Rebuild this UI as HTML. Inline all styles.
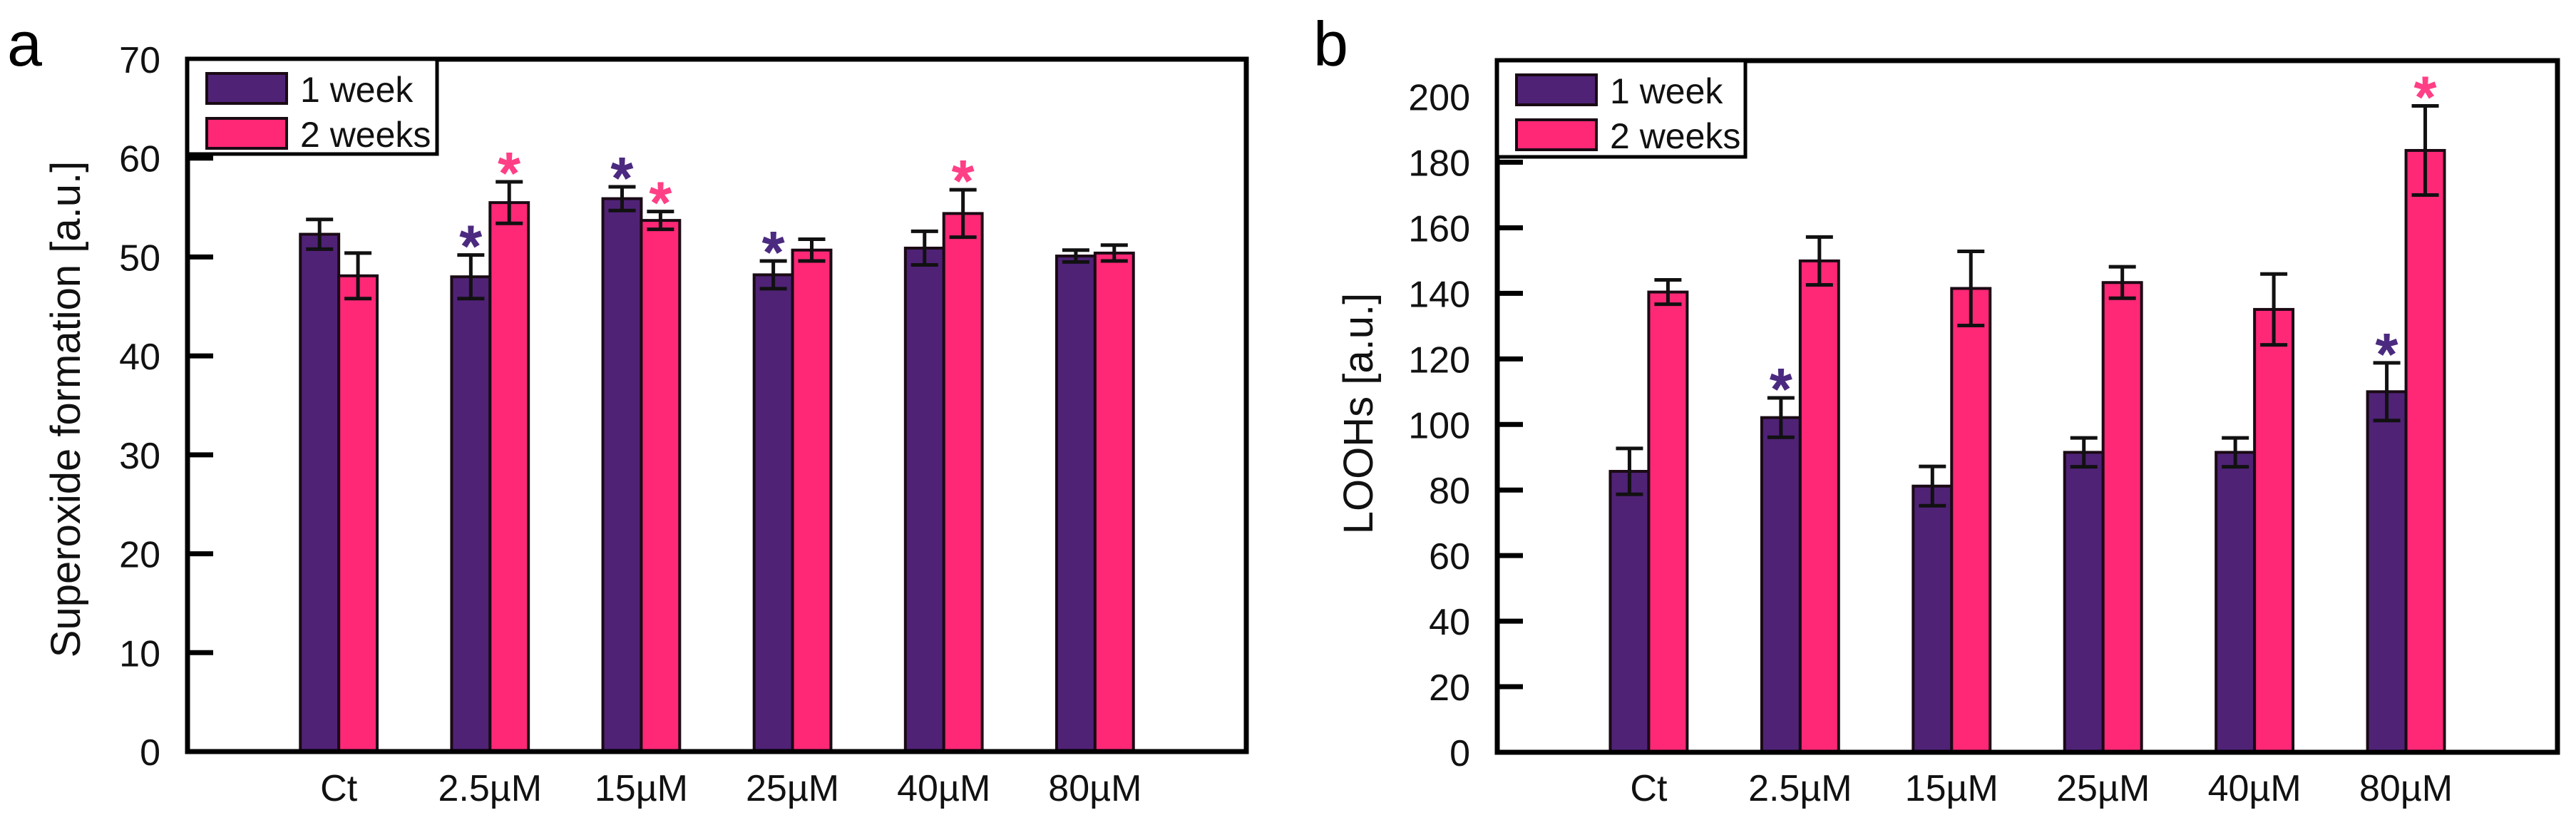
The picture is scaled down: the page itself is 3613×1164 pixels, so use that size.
<!DOCTYPE html>
<html><head><meta charset="utf-8">
<style>
html,body{margin:0;padding:0;background:#fff;}
svg{display:block;font-family:"Liberation Sans",Arial,sans-serif;}
</style></head>
<body>
<svg id="chart" width="3613" height="1164" viewBox="0 0 3613 1164" xmlns="http://www.w3.org/2000/svg"></svg>
<script>
// shared data
const categories = ["Ct","2.5\u00b5M","15\u00b5M","25\u00b5M","40\u00b5M","80\u00b5M"];
const seriesNames = ["1 week","2 weeks"];
// panel a: superoxide
const aWeek1 = [52.3, 48.0, 55.9, 48.2, 50.9, 50.1];
const aWeek1Err = [1.5, 2.2, 1.2, 1.4, 1.7, 0.6];
const aWeek2 = [48.1, 55.5, 53.7, 50.7, 54.4, 50.4];
const aWeek2Err = [2.3, 2.1, 0.9, 1.1, 2.4, 0.8];
const aStars1 = [false, true, true, true, false, false];
const aStars2 = [false, true, true, false, true, false];
const aTicks = [0,10,20,30,40,50,60,70];
// panel b: LOOHs
const bWeek1 = [85.7, 102.1, 81.2, 91.5, 91.5, 110.0];
const bWeek1Err = [7.0, 6.0, 6.0, 4.4, 4.4, 8.8];
const bWeek2 = [140.4, 149.9, 141.5, 143.3, 135.1, 183.6];
const bWeek2Err = [3.7, 7.3, 11.3, 4.8, 10.8, 13.6];
const bStars1 = [false, true, false, false, false, true];
const bStars2 = [false, false, false, false, false, true];
const bTicks = [0,20,40,60,80,100,120,140,160,180,200];

const NS = "http://www.w3.org/2000/svg";
const svg = document.getElementById("chart");
const PURPLE = "#4f2276", PINK = "#fe2877", STAR1 = "#4b2a80", STAR2 = "#ff3f86";
function mk(tag, attrs, parent){
  const e = document.createElementNS(NS, tag);
  for (const k in attrs) e.setAttribute(k, attrs[k]);
  (parent||svg).appendChild(e);
  return e;
}

function panel(cfg){
  const g = mk("g", {});
  
  
  const L = cfg.left, R = cfg.right, T = cfg.top, B = cfg.bottom;
  const slot = (R - L) / 7;
  const xC = i => L + slot * (i + 1);
  const y = v => B - (v / cfg.ymax) * (B - T);
  const bw = slot * 0.254;

  const lt = mk("text", {x: cfg.letterX, y: 92, "font-size": 88, fill: "#000"}, g);
  lt.textContent = cfg.letter;
  
  

  const s1 = cfg.w1, e1 = cfg.e1, s2 = cfg.w2, e2 = cfg.e2;
  for (let i = 0; i < categories.length; i++) {
    const c = xC(i);
    [[s1[i], e1[i], c - bw, PURPLE, 'week1', cfg.st1[i], STAR1],
     [s2[i], e2[i], c, PINK, 'week2', cfg.st2[i], STAR2]].forEach(d => {
      const [v, er, x0, col, nm, star, scol] = d;
      const r = mk("rect", {x: x0, y: y(v), width: bw, height: B - y(v), fill: col, stroke: "#1a0a14", "stroke-width": 4}, g);
      
      
      const cx = x0 + bw / 2;
      const eb = mk("path", {d: `M${cx} ${y(v+er)}V${y(v-er)}M${cx-19} ${y(v+er)}H${cx+19}M${cx-19} ${y(v-er)}H${cx+19}`, stroke: "#111", "stroke-width": 5, fill: "none"}, g);
      
      
      if (star) {
        const st = mk("text", {x: cx, y: y(v+er) - 29 + 43, "font-size": 78, "text-anchor": "middle", fill: scol, stroke: scol, "stroke-width": 3}, g);
        st.textContent = "*";
        
        
      }
    });
    const xl = mk("text", {x: c, y: 1123, "font-size": 52, "text-anchor": "middle", fill: "#111"}, g);
    xl.textContent = categories[i];
    
    
  }

  cfg.ticks.forEach(t => {
    const tk = mk("line", {x1: L, x2: L + 36, y1: y(t), y2: y(t), stroke: "#000", "stroke-width": 7}, g);
    
    
    const tl = mk("text", {x: cfg.tickRight, y: y(t) + 19, "font-size": 52, "text-anchor": "end", fill: "#111"}, g);
    tl.textContent = t;
    
    
  });

  const fr = mk("rect", {x: L, y: T, width: R - L, height: B - T, fill: "none", stroke: "#000", "stroke-width": 7}, g);
  
  

  const yt = mk("text", {x: 0, y: 0, "font-size": 58, "text-anchor": "middle", fill: "#111", transform: `translate(${cfg.titleX},${cfg.titleY}) rotate(-90)`}, g);
  yt.textContent = cfg.title;
  
  

  const lg = mk("g", {}, g);
  
  
  mk("rect", {x: L, y: T, width: cfg.legW, height: cfg.legH, fill: "#fff", stroke: "#000", "stroke-width": 5}, lg);
  [[PURPLE, 0], [PINK, 1]].forEach(([col, k]) => {
    const sy = T + 20 + k * 63;
    const sw = mk("rect", {x: L + 27, y: sy, width: 112, height: 42, fill: col, stroke: "#1a0a14", "stroke-width": 4}, lg);
    
    
    const tx = mk("text", {x: L + 158, y: sy + 40, "font-size": 50, fill: "#111"}, lg);
    tx.textContent = seriesNames[k];
    
    
  });
}

panel({name: "panel-a-superoxide", letter: "a", letterX: 10, left: 263, right: 1748, top: 83, bottom: 1054, ymax: 70,
  w1: aWeek1, e1: aWeek1Err, w2: aWeek2, e2: aWeek2Err, st1: aStars1, st2: aStars2, ticks: aTicks,
  tickRight: 225, title: "Superoxide formation [a.u.]", titleX: 112, titleY: 574, legW: 350, legH: 133});
panel({name: "panel-b-loohs", letter: "b", letterX: 1842, left: 2100, right: 3587, top: 85, bottom: 1055, ymax: 211,
  w1: bWeek1, e1: bWeek1Err, w2: bWeek2, e2: bWeek2Err, st1: bStars1, st2: bStars2, ticks: bTicks,
  tickRight: 2062, title: "LOOHs [a.u.]", titleX: 1925, titleY: 580, legW: 348, legH: 135});
</script>
</body></html>
